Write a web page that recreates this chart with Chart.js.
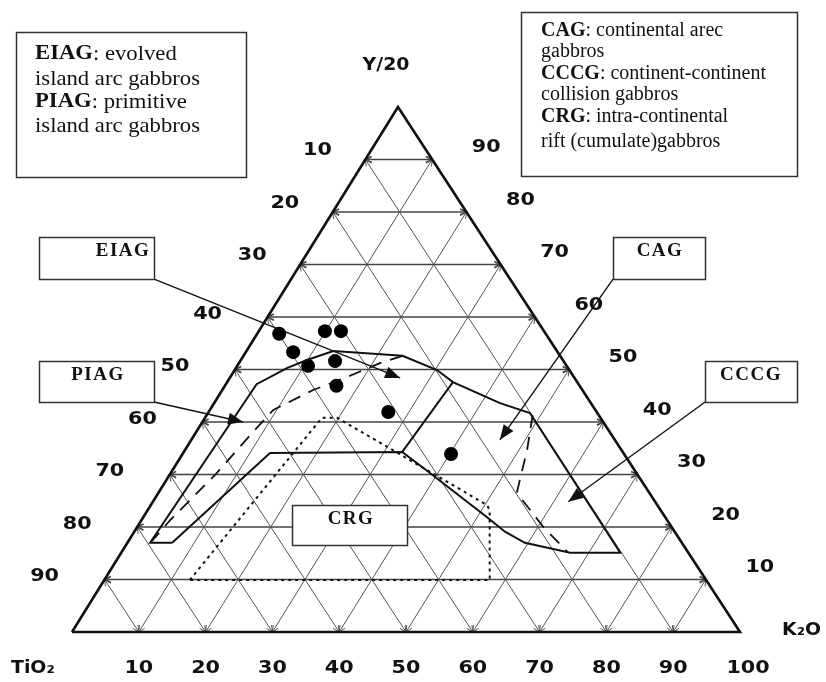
<!DOCTYPE html>
<html>
<head>
<meta charset="utf-8">
<script src="https://cdn.jsdelivr.net/npm/chart.js@4.4.1/dist/chart.umd.min.js"></script>
<style>
  html, body { margin: 0; padding: 0; background: #fff; }
  canvas { display: block; }
</style>
</head>
<body>
<canvas id="ternary" width="826" height="682"></canvas>
<script>
// every point is [K2O, Y/20] in percent; TiO2 is what is left over
var samples = [
  [3.3, 56.8], [9.9, 57.3], [12.3, 57.3], [7.1, 53.3], [10.6, 50.7],
  [14.2, 51.6], [16.7, 46.9], [26.9, 41.9], [40.2, 33.9]
];

// solid boundary round the EIAG / CAG / CCCG / PIAG fields
var solidOutline = [
  [6.7, 17.0], [3.4, 17.0], [4.6, 47.2], [7.7, 50.3], [9.9, 51.8],
  [13.0, 53.5], [23.8, 52.6], [30.3, 49.9], [33.8, 47.6], [42.8, 43.6],
  [48.2, 41.7], [74.7, 15.1], [67.2, 15.1], [59.5, 17.0], [55.5, 19.1],
  [51.4, 21.9], [38.8, 30.3], [32.7, 34.3], [13.0, 34.1], [6.7, 17.0]
];
var solidSplit = [[32.7, 34.3], [33.8, 47.6]];

// long dashes
var dashedLeft = [
  [23.8, 52.6], [21.1, 51.2], [17.5, 48.6], [13.6, 46.1], [9.5, 42.3],
  [8.5, 38.1], [6.8, 29.9], [4.3, 21.3], [3.5, 17.3]
];
var dashedRight = [
  [48.8, 41.3], [51.2, 34.7], [52.9, 29.0], [53.6, 26.7], [55.2, 25.1],
  [60.8, 20.0], [66.8, 15.2]
];

// dotted CRG field
var crgField = [
  [12.8, 9.9], [17.5, 40.8], [19.8, 40.8], [50.3, 24.2], [51.2, 23.2],
  [57.7, 9.9], [12.8, 9.9]
];

var gridSteps = [10, 20, 30, 40, 50, 60, 70, 80, 90];
var bottomTicks = [10, 20, 30, 40, 50, 60, 70, 80, 90, 100];
var leftTicks = [10, 20, 30, 40, 50, 60, 70, 80, 90];
var rightTicks = [90, 80, 70, 60, 50, 40, 30, 20, 10];

var pointers = [
  { from: [-20.5, 67.2], to: [25.5, 48.4] },  // EIAG
  { from: [-9.1, 43.8], to: [6.1, 40.0] },    // PIAG
  { from: [48.2, 67.2], to: [46.2, 36.6] },   // CAG
  { from: [73.4, 43.8], to: [62.2, 24.8] }    // CCCG
];

var SKEW = 0.488; // the apex sits a little left of the base middle

function toXY(p) {
  return { x: p[0] + SKEW * p[1], y: p[1] };
}
function series(points) {
  return points.map(toXY);
}

var serif = '"Liberation Serif", "Times New Roman", serif';
var sans = '"DejaVu Sans", sans-serif';

var fieldBoxes = [
  { x: 39, y: 237, w: 115, h: 42, text: "EIAG", tx: 123, ty: 251 },
  { x: 39, y: 361, w: 115, h: 41, text: "PIAG", tx: 98, ty: 375 },
  { x: 613, y: 237, w: 92, h: 42, text: "CAG", tx: 660, ty: 251 },
  { x: 705, y: 361, w: 92, h: 41, text: "CCCG", tx: 751, ty: 375 },
  { x: 292, y: 505, w: 115, h: 40, text: "CRG", tx: 351, ty: 519 }
];

var legendBoxes = [
  {
    x: 16, y: 32, w: 230, h: 145, tx: 35, size: 21, stretch: 1.08,
    lines: [
      { y: 54, b: "EIAG", r: ": evolved" },
      { y: 79, b: "", r: "island arc gabbros" },
      { y: 102, b: "PIAG", r: ": primitive" },
      { y: 126, b: "", r: "island arc gabbros" }
    ]
  },
  {
    x: 521, y: 12, w: 276, h: 164, tx: 541, size: 20, stretch: 1.0,
    lines: [
      { y: 31, b: "CAG", r: ": continental arec" },
      { y: 52, b: "", r: "gabbros" },
      { y: 74, b: "CCCG", r: ": continent-continent" },
      { y: 95, b: "", r: "collision gabbros" },
      { y: 117, b: "CRG", r: ": intra-continental" },
      { y: 142, b: "", r: "rift (cumulate)gabbros" }
    ]
  }
];

function openHead(ctx, tip, tail, size) {
  var ang = Math.atan2(tip[1] - tail[1], tip[0] - tail[0]);
  ctx.beginPath();
  ctx.moveTo(tip[0] - size * Math.cos(ang - 0.45), tip[1] - size * Math.sin(ang - 0.45));
  ctx.lineTo(tip[0], tip[1]);
  ctx.lineTo(tip[0] - size * Math.cos(ang + 0.45), tip[1] - size * Math.sin(ang + 0.45));
  ctx.stroke();
}

function filledHead(ctx, tip, tail, len, half) {
  var ang = Math.atan2(tip[1] - tail[1], tip[0] - tail[0]);
  var bx = tip[0] - len * Math.cos(ang), by = tip[1] - len * Math.sin(ang);
  ctx.beginPath();
  ctx.moveTo(tip[0], tip[1]);
  ctx.lineTo(bx + half * Math.sin(ang), by - half * Math.cos(ang));
  ctx.lineTo(bx - half * Math.sin(ang), by + half * Math.cos(ang));
  ctx.closePath();
  ctx.fill();
}

// the scanned figure is a bit wider than it is tall, text included
function wideText(ctx, text, x, y, sx) {
  ctx.save();
  ctx.translate(x, y);
  ctx.scale(sx, 1);
  ctx.fillText(text, 0, 0);
  ctx.restore();
  return ctx.measureText(text).width * sx;
}

var ternaryPlugin = {
  id: "ternary",
  beforeDatasetsDraw: function (chart) {
    var ctx = chart.ctx, xs = chart.scales.x, ys = chart.scales.y;
    function px(k, y) {
      var p = toXY([k, y]);
      return [xs.getPixelForValue(p.x), ys.getPixelForValue(p.y)];
    }
    function gridLine(a, b) {
      ctx.beginPath();
      ctx.moveTo(a[0], a[1]);
      ctx.lineTo(b[0], b[1]);
      ctx.stroke();
      openHead(ctx, a, b, 7);
      openHead(ctx, b, a, 7);
    }
    ctx.save();
    // Y/20 constant
    ctx.strokeStyle = "#444";
    ctx.lineWidth = 1.6;
    gridSteps.forEach(function (v) {
      gridLine(px(0, v), px(100 - v, v));
    });
    ctx.strokeStyle = "#555";
    ctx.lineWidth = 1;
    // K2O constant
    gridSteps.forEach(function (v) {
      gridLine(px(v, 0), px(v, 100 - v));
    });
    // TiO2 constant
    gridSteps.forEach(function (v) {
      gridLine(px(100 - v, 0), px(0, 100 - v));
    });
    ctx.restore();
  },
  afterDatasetsDraw: function (chart) {
    var ctx = chart.ctx, xs = chart.scales.x, ys = chart.scales.y;
    function px(k, y) {
      var p = toXY([k, y]);
      return [xs.getPixelForValue(p.x), ys.getPixelForValue(p.y)];
    }
    ctx.save();

    // pointer arrows
    ctx.strokeStyle = "#111";
    ctx.fillStyle = "#111";
    ctx.lineWidth = 1.4;
    pointers.forEach(function (p) {
      var a = px(p.from[0], p.from[1]), b = px(p.to[0], p.to[1]);
      ctx.beginPath();
      ctx.moveTo(a[0], a[1]);
      ctx.lineTo(b[0], b[1]);
      ctx.stroke();
      filledHead(ctx, b, a, 15, 6);
    });

    // tick labels
    ctx.fillStyle = "#111";
    ctx.font = "bold 18px " + sans;
    ctx.textBaseline = "middle";
    ctx.textAlign = "center";
    bottomTicks.forEach(function (t) {
      var p = px(t, 0);
      wideText(ctx, String(t), p[0] + (t === 100 ? 8 : 0), p[1] + 36, 1.15);
    });
    rightTicks.forEach(function (t) {
      var p = px(100 - t, t);
      wideText(ctx, String(t), p[0] + 54, p[1] - 12, 1.15);
    });
    leftTicks.forEach(function (t) {
      var p = px(0, 100 - t);
      var far = t > 30;
      wideText(ctx, String(t), p[0] - (far ? 60 : 48), p[1] - (far ? 3 : 9), 1.15);
    });

    // axis names
    var top = px(0, 100), right = px(100, 0), left = px(0, 0);
    wideText(ctx, "Y/20", top[0] - 12, top[1] - 42, 1.05);
    ctx.textAlign = "left";
    wideText(ctx, "K\u2082O", right[0] + 42, right[1] - 2, 1.05);
    wideText(ctx, "TiO\u2082", left[0] - 61, left[1] + 36, 1.05);

    // field name boxes
    ctx.lineWidth = 1.5;
    ctx.strokeStyle = "#333";
    fieldBoxes.forEach(function (b) {
      ctx.fillStyle = "#fff";
      ctx.fillRect(b.x, b.y, b.w, b.h);
      ctx.strokeRect(b.x + 0.5, b.y + 0.5, b.w, b.h);
      ctx.fillStyle = "#111";
      ctx.font = "bold 19px " + serif;
      ctx.letterSpacing = "1.5px";
      ctx.textAlign = "center";
      ctx.fillText(b.text, b.tx, b.ty);
      ctx.letterSpacing = "0px";
    });

    // abbreviation legends
    legendBoxes.forEach(function (box) {
      ctx.fillStyle = "#fff";
      ctx.fillRect(box.x, box.y, box.w, box.h);
      ctx.strokeRect(box.x + 0.5, box.y + 0.5, box.w, box.h);
      ctx.fillStyle = "#111";
      ctx.textAlign = "left";
      box.lines.forEach(function (ln) {
        var x = box.tx;
        if (ln.b) {
          ctx.font = "bold " + box.size + "px " + serif;
          x += wideText(ctx, ln.b, x, ln.y, box.stretch);
        }
        ctx.font = box.size + "px " + serif;
        wideText(ctx, ln.r, x, ln.y, box.stretch);
      });
    });

    ctx.restore();
  }
};

var frame = [[0, 0], [100, 0], [0, 100], [0, 0]];

function lineSet(points, width, dash) {
  return {
    data: series(points),
    showLine: true,
    borderColor: "#111",
    borderWidth: width,
    borderDash: dash || [],
    pointRadius: 0,
    fill: false,
    tension: 0,
    clip: false
  };
}

var config = {
  type: "scatter",
  data: {
    datasets: [
      lineSet(frame, 2.6),
      lineSet(crgField, 2, [3, 4]),
      lineSet(dashedLeft, 1.8, [13, 9]),
      lineSet(dashedRight, 1.8, [13, 9]),
      lineSet(solidOutline, 2),
      lineSet(solidSplit, 2),
      {
        data: series(samples),
        showLine: false,
        pointRadius: 7,
        pointBackgroundColor: "#000",
        pointBorderColor: "#000",
        pointBorderWidth: 0,
        clip: false
      }
    ]
  },
  options: {
    responsive: false,
    animation: false,
    layout: { padding: { left: 72, right: 86, top: 107, bottom: 50 } },
    plugins: {
      legend: { display: false },
      tooltip: { enabled: false }
    },
    scales: {
      x: { type: "linear", min: 0, max: 100, display: false },
      y: { type: "linear", min: 0, max: 100, display: false }
    }
  },
  plugins: [ternaryPlugin]
};

var ctx = document.getElementById("ternary").getContext("2d");
window.myTernary = new Chart(ctx, config);
</script>
</body>
</html>
